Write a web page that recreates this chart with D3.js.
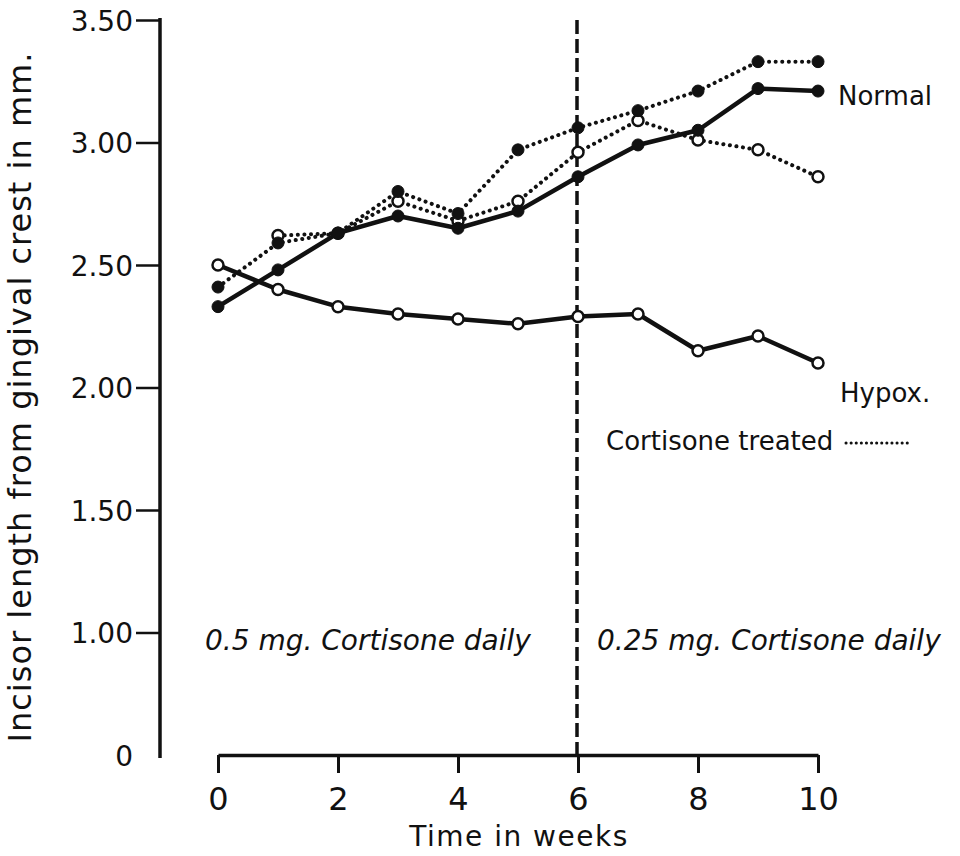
<!DOCTYPE html>
<html>
<head>
<meta charset="utf-8">
<script src="https://cdn.jsdelivr.net/npm/d3@7"></script>
<style>
  body { margin: 0; background: #fff; }
  svg text { font-family: "DejaVu Sans", sans-serif; fill: #111; }
</style>
</head>
<body>
<div id="chart"></div>
<script>
// weeks on x axis
var weeks = [0, 1, 2, 3, 4, 5, 6, 7, 8, 9, 10];
var weeksCort = [1, 2, 3, 4, 5, 6, 7, 8, 9, 10];

// incisor length, mm
var normal     = [2.33, 2.48, 2.63, 2.70, 2.65, 2.72, 2.86, 2.99, 3.05, 3.22, 3.21];
var hypox      = [2.50, 2.40, 2.33, 2.30, 2.28, 2.26, 2.29, 2.30, 2.15, 2.21, 2.10];
var cortNormal = [2.41, 2.59, 2.63, 2.80, 2.71, 2.97, 3.06, 3.13, 3.21, 3.33, 3.33];
var cortHypox  = [2.62, 2.63, 2.76, 2.68, 2.76, 2.96, 3.09, 3.01, 2.97, 2.86];

var yTicks = [0.5, 1.0, 1.5, 2.0, 2.5, 3.0, 3.5];
var yTickLabels = ['0', '1.00', '1.50', '2.00', '2.50', '3.00', '3.50'];
var xTicks = [0, 2, 4, 6, 8, 10];

var w = 960, h = 856;
var svg = d3.select('#chart').append('svg')
    .attr('width', w)
    .attr('height', h);

var x = d3.scaleLinear().domain([0, 10]).range([218, 818]);
// axis is broken: "0" sits one step below 1.00
var y = d3.scaleLinear().domain([0.5, 3.5]).range([755, 20]);

// y axis
var yAxis = d3.axisLeft(y)
    .tickValues(yTicks)
    .tickSize(24)
    .tickSizeOuter(0)
    .tickPadding(3)
    .tickFormat(function(d, i) { return yTickLabels[i]; });

var gy = svg.append('g')
    .attr('transform', 'translate(160,0)')
    .call(yAxis);
gy.select('.domain').attr('stroke', '#111').attr('stroke-width', 3.5)
    .attr('d', 'M0,' + (y(3.5) - 2) + 'V' + (y(0.5) + 3));
gy.selectAll('.tick line').attr('stroke', '#111').attr('stroke-width', 2.5);
gy.selectAll('.tick text').style('font-size', '28px').attr('dy', '0.36em');
gy.selectAll('.tick').filter(function(d) { return d === 0.5; })
    .select('line').remove();

// x axis
var xAxis = d3.axisBottom(x)
    .tickValues(xTicks)
    .tickSize(18)
    .tickSizeOuter(0)
    .tickPadding(14)
    .tickFormat(d3.format('d'));

var gx = svg.append('g')
    .attr('transform', 'translate(0,755)')
    .call(xAxis);
gx.select('.domain').attr('stroke', '#111').attr('stroke-width', 3.5);
gx.selectAll('.tick line').attr('stroke', '#111').attr('stroke-width', 3);
gx.selectAll('.tick text').style('font-size', '32px');

svg.append('text')
    .attr('x', 519).attr('y', 846)
    .attr('text-anchor', 'middle')
    .style('font-size', '28px')
    .style('letter-spacing', '1.5px')
    .text('Time in weeks');

svg.append('text')
    .attr('transform', 'translate(31,397) rotate(-90)')
    .attr('text-anchor', 'middle')
    .style('font-size', '32px')
    .style('letter-spacing', '1px')
    .text('Incisor length from gingival crest in mm.');

// divider at week 6
svg.append('line')
    .attr('x1', x(6) - 1).attr('x2', x(6) - 1)
    .attr('y1', 20).attr('y2', 755)
    .attr('stroke', '#111')
    .attr('stroke-width', 3.5)
    .attr('stroke-dasharray', '14,5');

var line = d3.line()
    .x(function(d) { return x(d[0]); })
    .y(function(d) { return y(d[1]); });

function series(xs, vals, dotted, filled) {
    var pts = d3.zip(xs, vals);
    svg.append('path')
        .datum(pts)
        .attr('d', line)
        .attr('fill', 'none')
        .attr('stroke', '#111')
        .attr('stroke-width', dotted ? 4 : 4.5)
        .attr('stroke-linecap', dotted ? 'round' : 'butt')
        .attr('stroke-linejoin', 'round')
        .attr('stroke-dasharray', dotted ? '0.1,6.5' : null);
    svg.selectAll(null)
        .data(pts)
        .enter()
        .append('circle')
        .attr('cx', function(d) { return x(d[0]); })
        .attr('cy', function(d) { return y(d[1]); })
        .attr('r', filled ? 6 : 5.5)
        .attr('fill', filled ? '#111' : '#fff')
        .attr('stroke', '#111')
        .attr('stroke-width', filled ? 1 : 2.5);
}

series(weeksCort, cortHypox, true, false);
series(weeks, cortNormal, true, true);
series(weeks, hypox, false, false);
series(weeks, normal, false, true);

// labels
svg.append('text').attr('x', 838).attr('y', 105)
    .style('font-size', '26px').text('Normal');
svg.append('text').attr('x', 840).attr('y', 402)
    .style('font-size', '26px').text('Hypox.');
svg.append('text').attr('x', 606).attr('y', 450)
    .style('font-size', '26px').text('Cortisone treated');
svg.append('line')
    .attr('x1', 846).attr('x2', 910)
    .attr('y1', 443).attr('y2', 443)
    .attr('stroke', '#111')
    .attr('stroke-width', 3)
    .attr('stroke-linecap', 'round')
    .attr('stroke-dasharray', '0.1,5');

svg.append('text').attr('x', 205).attr('y', 650)
    .style('font-size', '28px').style('font-style', 'italic')
    .text('0.5 mg. Cortisone daily');
svg.append('text').attr('x', 597).attr('y', 650)
    .style('font-size', '28px').style('font-style', 'italic')
    .text('0.25 mg. Cortisone daily');
</script>
</body>
</html>
